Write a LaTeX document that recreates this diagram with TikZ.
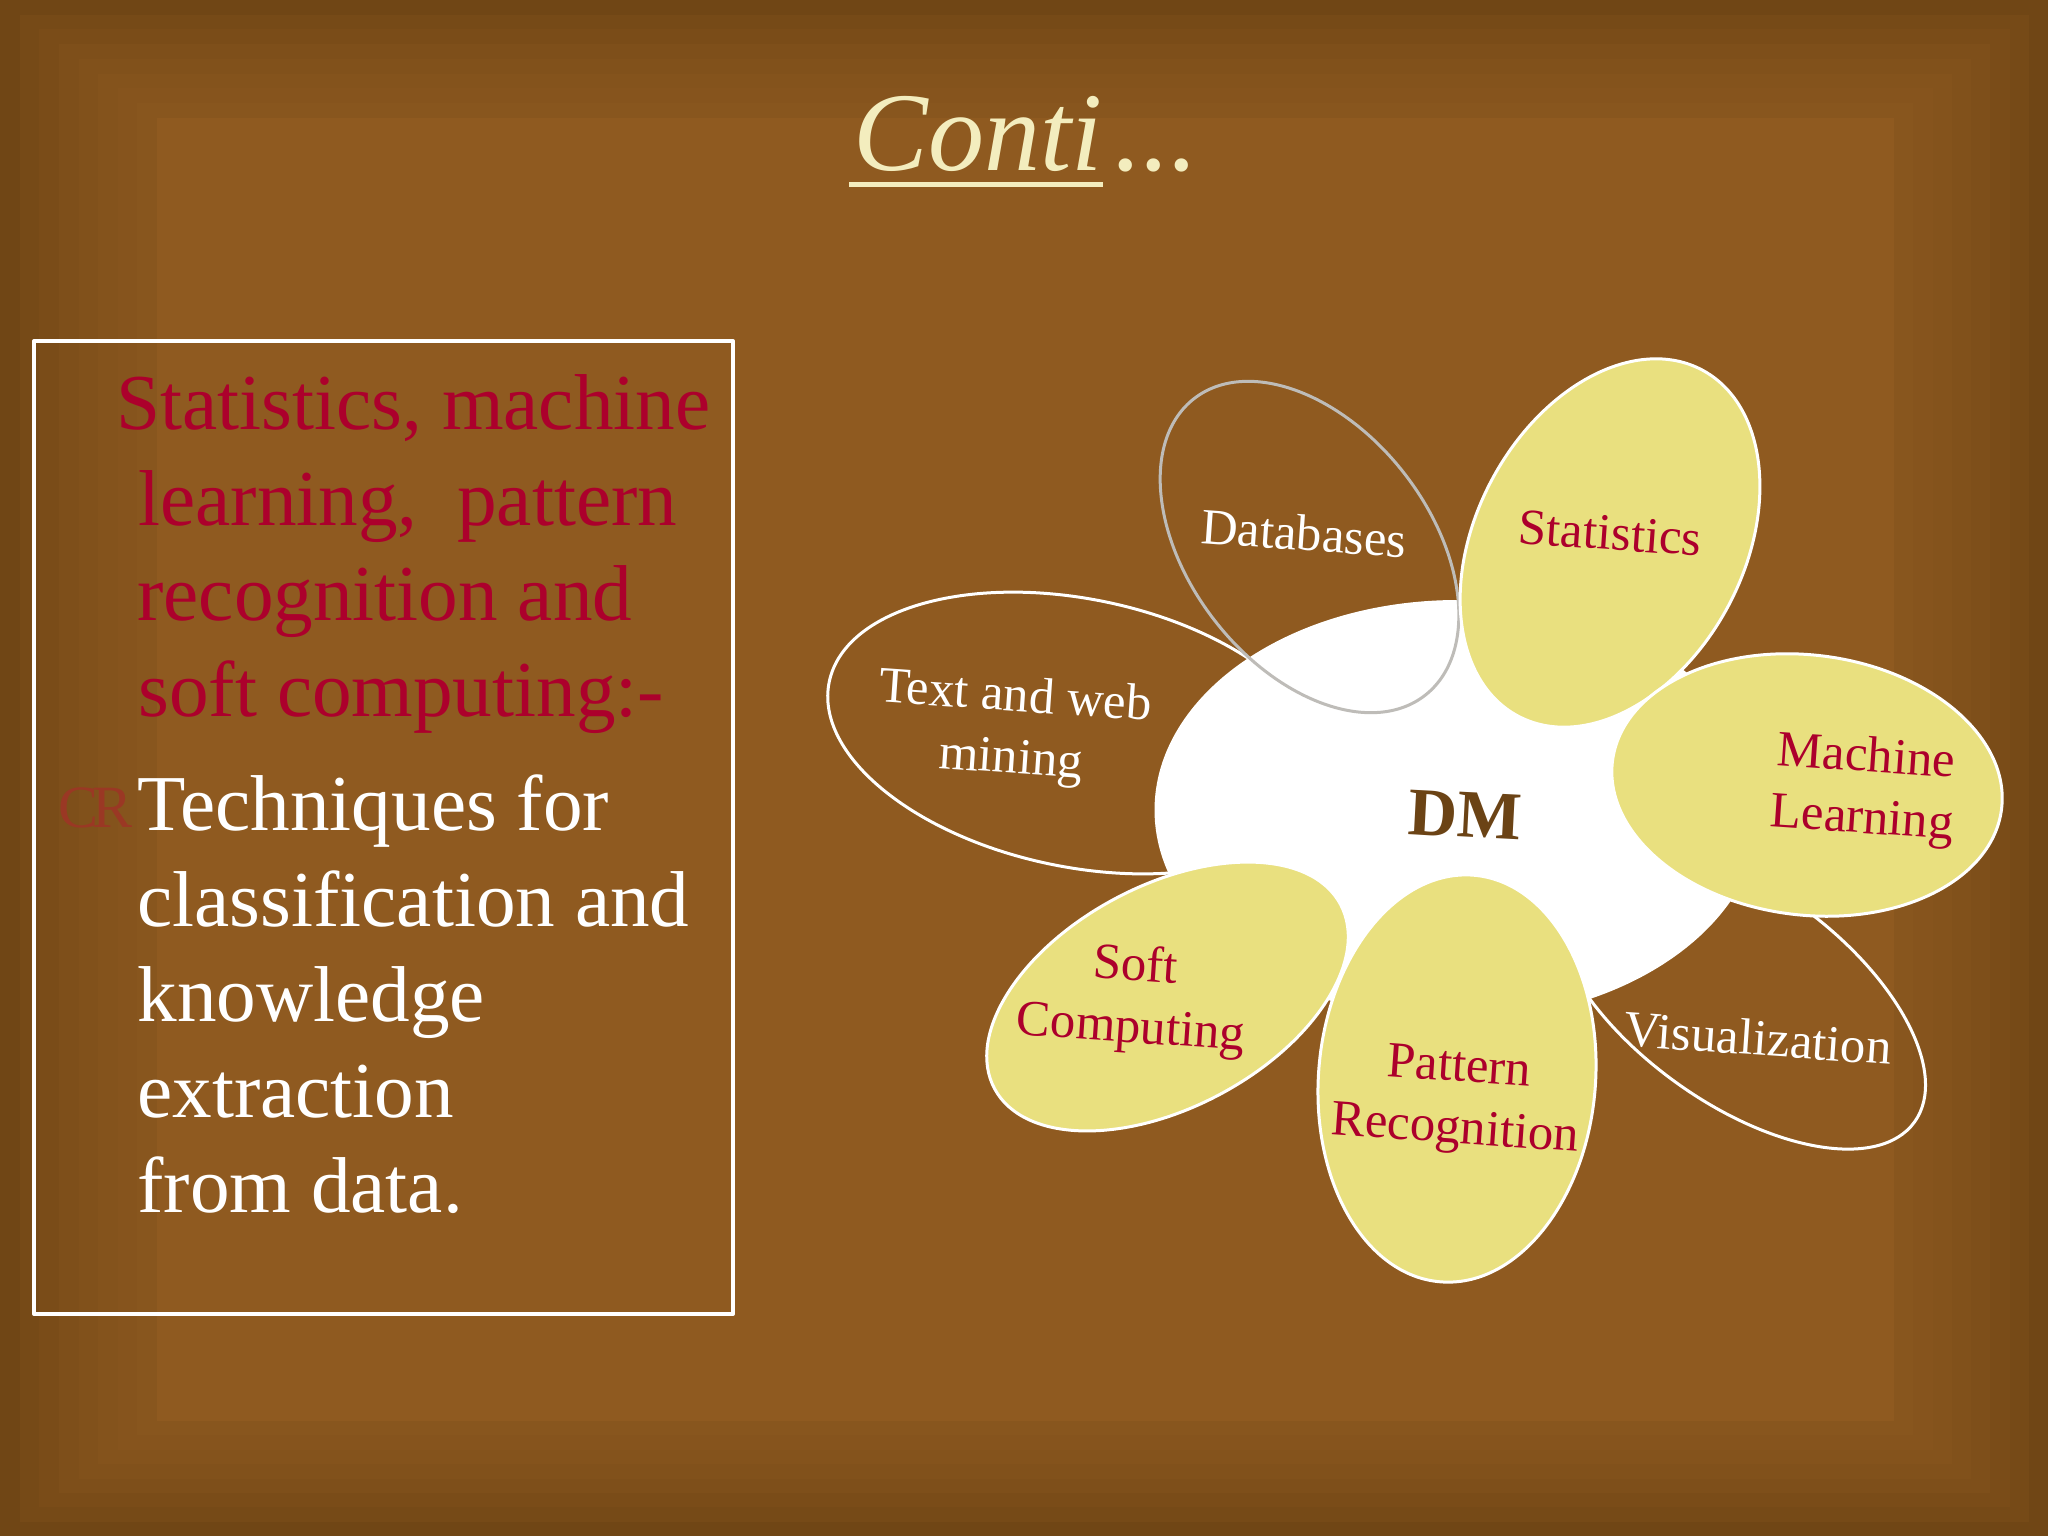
\documentclass[tikz,border=0pt]{standalone}
\usepackage{fontspec}
\setmainfont{Liberation Serif}
\definecolor{bgin}{RGB}{143,90,32}
\definecolor{bgout}{RGB}{112,70,21}
\definecolor{rosso}{RGB}{172,0,44}
\definecolor{giallo}{RGB}{233,224,127}
\definecolor{titolo}{RGB}{243,237,190}
\definecolor{bruno}{RGB}{107,67,21}
\definecolor{grigio}{RGB}{190,188,184}
\tikzset{
  filled petal/.style={draw=white,line width=1.5pt,fill=giallo},
  open petal/.style={draw=white,line width=1.5pt},
  lefttext/.style={anchor=base west,inner sep=0pt,font=\fontsize{39.6}{47}\selectfont},
  petaltext/.style={align=center,inner sep=0pt,font=\fontsize{25.4}{31}\selectfont},
}
\begin{document}
\begin{tikzpicture}[x=0.5pt,y=-0.5pt]
\useasboundingbox (0,0) rectangle (2048,1536);
% background bands
\fill[bgout] (0,0) rectangle (2048,1536);
\foreach \k/\m in {1/18,2/32,3/44,4/54,5/63,6/71,7/79}{
  \pgfmathsetmacro{\f}{\k/8}
  \fill[bgin!\m!bgout] ({157*\f},{118*\f}) rectangle ({2048-154*\f},{1536-115*\f});
}
\fill[bgin] (157,118) rectangle (1894,1421);
% title
\node[anchor=base west,inner sep=0pt,text=titolo,font=\fontsize{56}{60}\selectfont\itshape] (title) at (853,170) {Conti};
\node[anchor=base west,inner sep=0pt,text=titolo,font=\fontsize{56}{60}\selectfont\itshape] (dots) at (1114,170) {...};
\draw[titolo,line width=2.5pt] (849,184) -- (1103,184);
% text box
\draw[white,line width=2pt,line join=round] (34,341) rectangle (733,1314);
\node[lefttext,text=rosso] (l1) at (116,429) {Statistics, machine};
\node[lefttext,text=rosso] (l2) at (138,525) {learning,\ \ pattern};
\node[lefttext,text=rosso] (l3) at (137,620) {recognition and};
\node[lefttext,text=rosso] (l4) at (138,716) {soft computing:-};
\node[anchor=base west,inner sep=0pt,text=rosso!38!bgin,font=\fontsize{30}{36}\selectfont] (bul) at (58,827) {C\kern-3ptR};
\node[lefttext,text=white] (w1) at (137,830) {Techniques for};
\node[lefttext,text=white] (w2) at (137,926) {classification and};
\node[lefttext,text=white] (w3) at (137,1021) {knowledge};
\node[lefttext,text=white] (w4) at (137,1117) {extraction};
\node[lefttext,text=white] (w5) at (137,1212) {from data.};
% open petals behind the centre
\draw[open petal,rotate around={-11.6:(1078,733)}] (1078,733) ellipse (254 and 134);
\draw[open petal,rotate around={-36:(1738,994)}] (1738,994) ellipse (218 and 108);
% centre
\fill[white] (1457.5,810) ellipse (303 and 210);
% petals over the centre
\draw[draw=grigio,line width=1.5pt,rotate around={37.9:(1309.5,547)}] (1309.5,547) ellipse (120 and 188);
\draw[filled petal,rotate around={-28:(1610,543)}] (1610,543) ellipse (134 and 196);
\draw[filled petal,rotate around={-7:(1807,785)}] (1807,785) ellipse (196 and 130);
\draw[filled petal,rotate around={28:(1167.5,996.5)}] (1167.5,996.5) ellipse (196 and 111);
\draw[filled petal,rotate around={-4.7:(1457,1078.5)}] (1457,1078.5) ellipse (138.5 and 204);
% labels
\node[petaltext,text=white,rotate=-4] (txt) at (1013,730) {Text and web\\mining};
\node[petaltext,text=white,rotate=-4] (db) at (1304,533) {Databases};
\node[petaltext,text=rosso,rotate=-4] (st) at (1610,533) {Statistics};
\node[petaltext,text=rosso,rotate=-4] (ml) at (1864,790) {Machine\\Learning};
\node[petaltext,text=rosso,rotate=-4] (sc) at (1133,999) {Soft\\Computing};
\node[petaltext,text=rosso,rotate=-4] (pr) at (1457,1101) {Pattern\\Recognition};
\node[petaltext,text=white,rotate=-4] (vi) at (1758,1038) {Visualization};
\node[inner sep=0pt,text=bruno,rotate=-3,font=\fontsize{34}{40}\selectfont\bfseries] (dm) at (1465,815) {DM};
\end{tikzpicture}
\end{document}
